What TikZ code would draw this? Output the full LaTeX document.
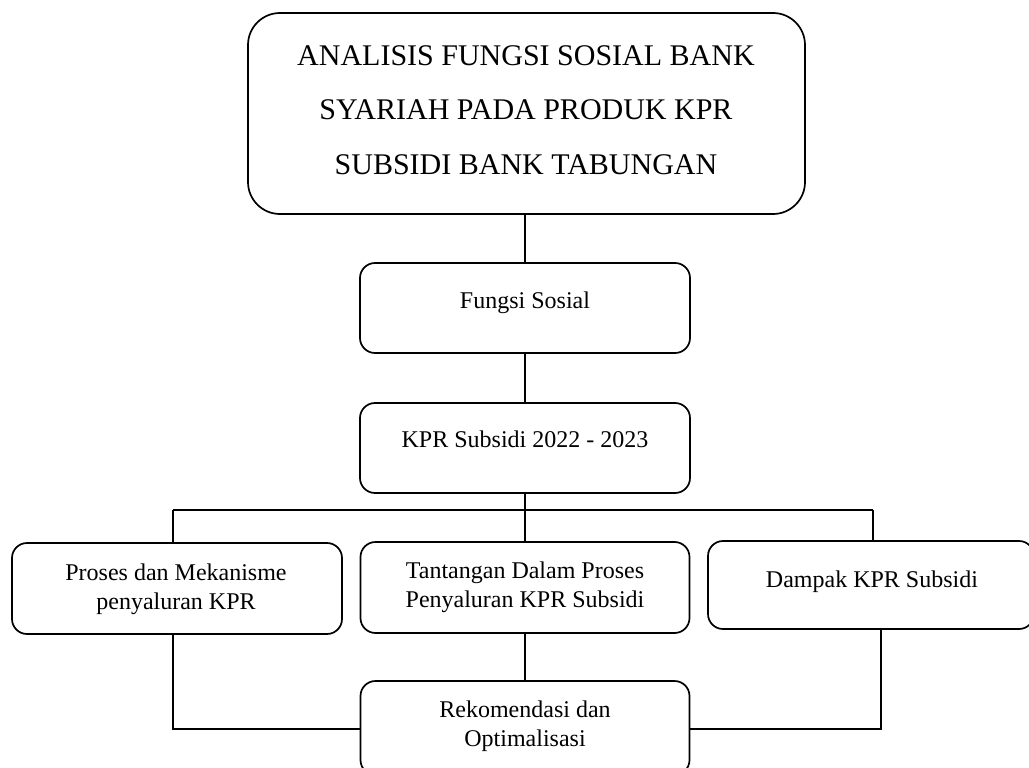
\documentclass[tikz,border=0pt]{standalone}
\usepackage{fontspec}
\setmainfont{Liberation Serif}
\begin{document}
\begin{tikzpicture}[x=1pt,y=-1pt,
  box/.style={draw, line width=1.7pt, inner sep=0pt, rounded corners=15pt},
  bigbox/.style={box, rounded corners=32pt},
  txt/.style={inner sep=0pt, font=\fontsize{24}{29}\selectfont, align=center},
  bigtxt/.style={inner sep=0pt, font=\fontsize{30}{54.5}\selectfont, align=center},
  conn/.style={line width=1.7pt}]
\clip (0,0) rectangle (1029,768);
\fill[white] (0,0) rectangle (1029,768);
% boxes
\node[bigbox, minimum width=557pt, minimum height=201pt] (title) at (526.5,113.5) {};
\node[box, minimum width=330pt, minimum height=90pt] (fs) at (525,308) {};
\node[box, minimum width=330pt, minimum height=90pt] (kpr) at (525,448) {};
\node[box, minimum width=330pt, minimum height=91pt] (left) at (177,588.5) {};
\node[box, minimum width=329pt, minimum height=91pt] (mid) at (525,587.5) {};
\node[box, minimum width=326pt, minimum height=88pt] (right) at (871,585) {};
\node[box, minimum width=329pt, minimum height=94pt] (bottom) at (525,728) {};
% texts
\node[bigtxt, anchor=north] (ttitle) at (526,45) {ANALISIS FUNGSI SOSIAL BANK\\SYARIAH PADA PRODUK KPR\\SUBSIDI BANK TABUNGAN};
\node[txt, anchor=base] (tfs) at (525,308) {Fungsi Sosial};
\node[txt, anchor=base] (tkpr) at (525,447) {KPR Subsidi 2022 - 2023};
\node[txt, anchor=base] (tright) at (872,587) {Dampak KPR Subsidi};
\node[txt, anchor=north] (tleft) at (176,563.6) {Proses dan Mekanisme\\penyaluran KPR};
\node[txt, anchor=north] (tmid) at (525,561.6) {Tantangan Dalam Proses\\Penyaluran KPR Subsidi};
\node[txt, anchor=north] (tbottom) at (525,700.6) {Rekomendasi dan\\Optimalisasi};
% connectors
\coordinate (busL) at (173,510);
\coordinate (busM) at (525,510);
\coordinate (busR) at (873,510);
\coordinate (jl) at (173,729);
\coordinate (jr) at (881,729);
\draw[conn] (fs.north |- title.south) -- (fs.north);
\draw[conn] (fs.south) -- (kpr.north);
\draw[conn] (kpr.south) -- (busM);
\draw[conn] (busL) -- (busR);
\draw[conn] (busL) -- (busL |- left.north);
\draw[conn] (busM) -- (mid.north);
\draw[conn] (busR) -- (busR |- right.north);
\draw[conn] (mid.south) -- (bottom.north);
\draw[conn] (jl |- left.south) -- (jl) -- (jl -| bottom.west);
\draw[conn] (jr |- right.south) -- (jr) -- (jr -| bottom.east);
\end{tikzpicture}
\end{document}
